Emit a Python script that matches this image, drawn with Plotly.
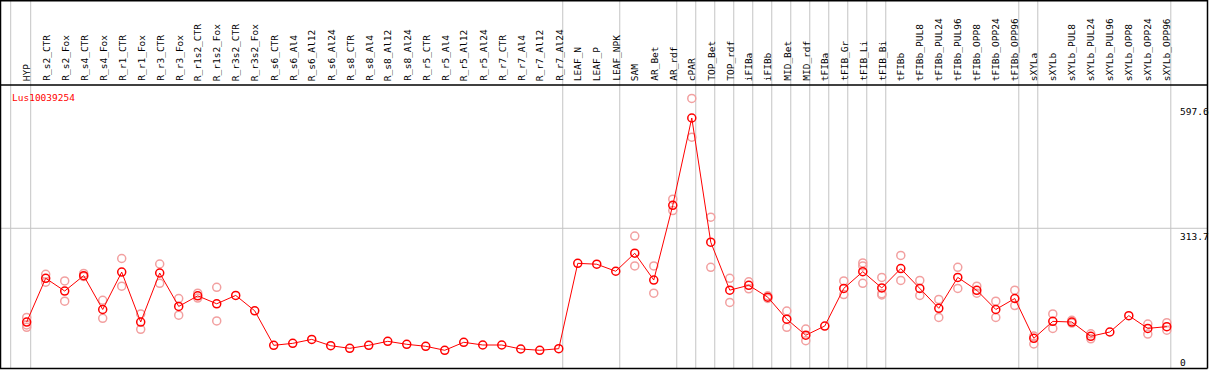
import plotly.graph_objects as go

categories = ["HYP", "R_s2_CTR", "R_s2_Fox", "R_s4_CTR", "R_s4_Fox", "R_r1_CTR", "R_r1_Fox",
              "R_r3_CTR", "R_r3_Fox", "R_r1s2_CTR", "R_r1s2_Fox", "R_r3s2_CTR", "R_r3s2_Fox",
              "R_s6_CTR", "R_s6_Al4", "R_s6_Al12", "R_s6_Al24", "R_s8_CTR", "R_s8_Al4", "R_s8_Al12",
              "R_s8_Al24", "R_r5_CTR", "R_r5_Al4", "R_r5_Al12", "R_r5_Al24", "R_r7_CTR", "R_r7_Al4",
              "R_r7_Al12", "R_r7_Al24", "LEAF_N", "LEAF_P", "LEAF_NPK", "SAM", "AR_Bet", "AR_rdf",
              "cPAR", "TOP_Bet", "TOP_rdf", "iFIBa", "iFIBb", "MID_Bet", "MID_rdf", "tFIBa",
              "tFIB_Gr", "tFIB_Li", "tFIB_Bi", "tFIBb", "tFIBb_PUL8", "tFIBb_PUL24", "tFIBb_PUL96",
              "tFIBb_OPP8", "tFIBb_OPP24", "tFIBb_OPP96", "sXYLa", "sXYLb", "sXYLb_PUL8",
              "sXYLb_PUL24", "sXYLb_PUL96", "sXYLb_OPP8", "sXYLb_OPP24", "sXYLb_OPP96"]

means = [100.5, 200, 171, 206, 129, 214, 100.5, 212, 136, 160, 142, 161, 126,
         47.5, 52, 61, 46.6, 40.7, 47.5, 56.6, 49.8, 45.3, 36.2, 54.4, 48.2, 48.2, 39.1, 36.2, 39.8,
         234, 232, 216, 257, 196, 366, 564.6, 282, 173, 184, 157, 107, 70.5,
         91.4, 177, 215, 178, 222, 177, 131.7, 202, 172.6, 129, 154,
         63.4, 102, 100.5, 68, 77.8, 115, 86, 90]

N = None
reps_a = [111, 209, 194, 211, 150, 245, 119, 232.5, 154, 166, 179.5, N, N,
          N, N, N, N, N, N, N, N, N, N, N, N, N, N, N, N,
          N, N, N, 296, 228, 380, 609, 339, 200, 192, 160, 125.6, 84.6,
          N, 194, 235, 202, 252, 195, 152, 225, 182, 148, 173,
          68.7, 119, 104.5, 73.7, N, N, 96, 99]
reps_b = [88.5, 191, 148, 204, 109, 182, 84, 188.5, 116, 155, 103, N, N,
          N, N, N, N, N, N, N, N, N, N, N, N, N, N, N, N,
          N, N, N, 228, 166, 354, 521, 225, 145, 176, 154, 88.5, 58,
          N, 163, 188.5, 162, 195, 161, 111, 177, 166, 111, 138,
          50.5, 86, 98, 62.4, N, N, 73, 82]
reps_c = [94] + [N] * 43 + [228, 165] + [N] * 15

gene_label = "Lus10039254"
tick_values = [597.6, 313.7, 0]
tick_labels = ["597.6", "313.7", "0"]
group_ends = [0, 28, 31, 34, 35, 36, 37, 38, 39, 40, 41, 42, 43, 44, 45, 52, 53, 60]

W, H = 1209, 370
FONT = "DejaVu Sans Mono"
xs = list(range(len(categories)))

X_RANGE = [-1.405, 62.22]
Y_RANGE = [-8.64, 833.0]


def py(px):  # pixel row -> paper y
    return 1 - px / H


fig = go.Figure()

for reps in (reps_a, reps_b, reps_c):
    fig.add_trace(go.Scatter(
        x=xs, y=reps, mode="markers",
        marker=dict(symbol="circle-open", size=8, color="#f2a0a0", line=dict(width=1.5, color="#f2a0a0")),
        hoverinfo="skip", showlegend=False))

fig.add_trace(go.Scatter(
    x=xs, y=means, mode="lines+markers",
    line=dict(color="#ff0000", width=1),
    marker=dict(symbol="circle-open", size=8, color="#ff0000", line=dict(width=1.5, color="#ff0000")),
    showlegend=False))

shapes = []
grid = "#c4c4c4"
seps = [-0.842] + [g + 0.21 for g in group_ends]
for s in seps:
    shapes.append(dict(type="line", xref="x", yref="paper", x0=s, x1=s, y0=py(368), y1=1,
                       line=dict(color=grid, width=1), layer="below"))
shapes.append(dict(type="line", xref="paper", yref="y", x0=0, x1=1207.5 / W, y0=tick_values[1],
                   y1=tick_values[1], line=dict(color=grid, width=1), layer="below"))
blk = dict(color="black", width=1.5)
shapes += [
    dict(type="line", xref="paper", yref="paper", x0=0.5 / W, x1=0.5 / W, y0=py(368.5), y1=1, line=blk),
    dict(type="line", xref="paper", yref="paper", x0=1207.5 / W, x1=1207.5 / W, y0=py(368.5), y1=1, line=blk),
    dict(type="line", xref="paper", yref="paper", x0=0, x1=1207.5 / W, y0=py(0.75), y1=py(0.75), line=blk),
    dict(type="line", xref="paper", yref="paper", x0=0, x1=1207.5 / W, y0=py(85), y1=py(85), line=blk),
    dict(type="line", xref="paper", yref="paper", x0=0, x1=1207.5 / W, y0=py(368.5), y1=py(368.5), line=blk),
]

annotations = []
for i, c in enumerate(categories):
    annotations.append(dict(x=i, y=py(83), xref="x", yref="paper", text=c, textangle=-90,
                            showarrow=False, xanchor="center", yanchor="bottom",
                            font=dict(family=FONT, size=9.5, color="black")))
annotations.append(dict(x=10 / W, y=py(97.7), xref="paper", yref="paper", text=gene_label,
                        showarrow=False, xanchor="left", yanchor="middle",
                        font=dict(family=FONT, size=9.5, color="#ff0000")))
for v, t in zip(tick_values, tick_labels):
    if v == 0:
        annotations.append(dict(x=1178 / W, y=py(362), xref="paper", yref="paper", text=t,
                                showarrow=False, xanchor="left", yanchor="middle",
                                font=dict(family=FONT, size=9.5, color="black")))
    else:
        annotations.append(dict(x=1178 / W, y=v, xref="paper", yref="y", text=t,
                                showarrow=False, xanchor="left", yanchor="top", yshift=-1,
                                font=dict(family=FONT, size=9.5, color="black")))

fig.update_layout(
    width=W, height=H, margin=dict(l=0, r=0, t=0, b=0),
    plot_bgcolor="white", paper_bgcolor="white",
    xaxis=dict(range=X_RANGE, showgrid=False, zeroline=False, showticklabels=False, fixedrange=True),
    yaxis=dict(range=Y_RANGE, showgrid=False, zeroline=False, showticklabels=False, fixedrange=True),
    shapes=shapes, annotations=annotations, showlegend=False,
)

fig.write_html("out.html", config={"displayModeBar": False},
               post_script="document.body.style.margin='0';document.body.style.overflow='hidden';")
